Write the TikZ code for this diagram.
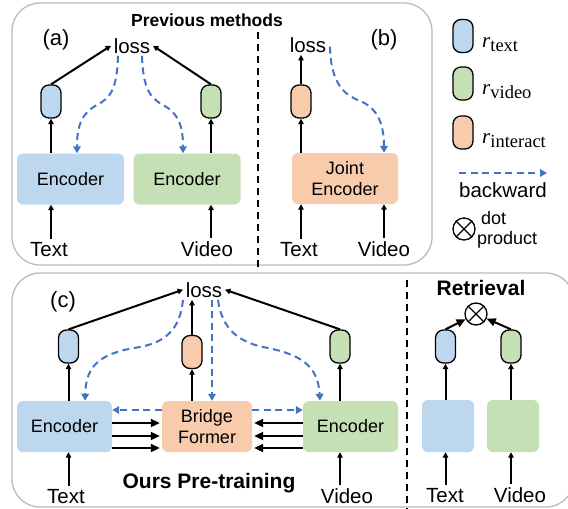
\documentclass[tikz,border=0pt]{standalone}
\usepackage{fontspec}
\setmainfont{Liberation Sans}
\newfontfamily\serifr{Liberation Serif}
\usetikzlibrary{arrows.meta,calc}
\definecolor{cblue}{HTML}{BDD7EE}
\definecolor{cgreen}{HTML}{C5E0B4}
\definecolor{corange}{HTML}{F8CBAD}
\definecolor{cdash}{HTML}{4472C4}
\definecolor{cframe}{HTML}{BBBBBB}
\begin{document}
\begin{tikzpicture}[x=1pt,y=-1pt,
  lbl/.style={font=\fontsize{20.5}{24}\selectfont, inner sep=2.5pt, anchor=base},
  ttl/.style={font=\fontsize{#1}{24}\selectfont\bfseries, inner sep=0pt, anchor=base},
  enc/.style={rounded corners=6pt, minimum height=51pt, inner sep=0pt,
     font=\fontsize{18}{21.5}\selectfont, align=center},
  capsule/.style={draw=black, line width=1.3pt, rounded corners=8pt, minimum width=20pt,
     minimum height=33pt, inner sep=0pt},
  arr/.style={-{Triangle[length=5.5pt,width=5.5pt]}, line width=2pt},
  barr/.style={-{Triangle[length=9pt,width=8pt]}, line width=2pt},
  back/.style={-{Triangle[length=7pt,width=7.5pt]}, draw=cdash, line width=2pt,
     dash pattern=on 7pt off 4.5pt},
  frame/.style={draw=cframe, line width=1.3pt, rounded corners=28pt},
  sepline/.style={line width=1.6pt, dash pattern=on 7pt off 5pt},
  dotsym/.style={circle, draw, line width=1.3pt, minimum size=22pt, inner sep=0pt}
]
\useasboundingbox (0,0) rectangle (568,509);

% frames
\draw[frame] (12,3) rectangle (432,265);
\draw[frame] (12,273) rectangle (574,507);
\draw[sepline] (258,32) -- (258,270);
\draw[sepline] (407,280) -- (407,509);

% ---------- panel (a)
\node[ttl=17.5] (prev) at (207,26) {Previous methods};
\node[lbl, font=\fontsize{22}{24}\selectfont] (la) at (56,45) {(a)};
\node[lbl] (lossA) at (132,53) {loss};
\node[capsule, fill=cblue] (capA1) at (51,101.5) {};
\node[capsule, fill=cgreen] (capA2) at (211,101.5) {};
\node[enc, fill=cblue, minimum width=107pt] (encA1) at (70.5,179) {Encoder};
\node[enc, fill=cgreen, minimum width=107pt] (encA2) at (187,179) {Encoder};
\node[lbl] (txtA) at (49,256) {Text};
\node[lbl] (vidA) at (207,256) {Video};
\draw[arr] (txtA.north -| capA1) -- (encA1.south -| capA1);
\draw[arr] (vidA.north -| capA2) -- (encA2.south -| capA2);
\draw[arr] (encA1.north -| capA1) -- (capA1.south);
\draw[arr] (encA2.north -| capA2) -- (capA2.south);
\draw[arr] (capA1.north) -- (lossA.west);
\draw[arr] (capA2.north) -- (lossA.east);
\draw[back] ($(lossA.south)+(-14,0)$) .. controls (117,90) and (110,98) .. (97,105)
   .. controls (82,113) and (77,125) .. ($(encA1.north)+(6.5,0)$);
\draw[back] ($(lossA.south)+(10,0)$) .. controls (143,88) and (150,98) .. (163,105)
   .. controls (178,113) and (183,125) .. ($(encA2.north)+(-4,0)$);

% ---------- panel (b)
\node[lbl, font=\fontsize{22}{24}\selectfont] (lb) at (384,45) {(b)};
\node[lbl] (lossB) at (308,52) {loss};
\node[capsule, fill=corange] (capB) at (301,101.5) {};
\node[enc, fill=corange, minimum width=106pt] (encB) at (345,178.5) {Joint\\Encoder};
\node[lbl] (txtB) at (299,256) {Text};
\node[lbl] (vidB) at (384,256) {Video};
\draw[arr] (txtB.north -| capB) -- (encB.south -| capB);
\draw[arr] (vidB.north) -- (encB.south -| vidB);
\draw[arr] (encB.north -| capB) -- (capB.south);
\draw[arr] (capB.north) -- (lossB.south -| capB);
\draw[back] ($(lossB.east)+(1,2)$) .. controls (331,85) and (345,95) .. (360,101)
   .. controls (378,108) and (384,125) .. (encB.north -| vidB);

% ---------- legend
\node[capsule, fill=cblue] (lg1) at (463,36) {};
\node[capsule, fill=cgreen] (lg2) at (463,83.5) {};
\node[capsule, fill=corange] (lg3) at (463,132.5) {};
\node[anchor=base west, inner sep=0pt] (lt1) at (482,47)
  {\serifr\fontsize{21}{24}\selectfont\itshape r\upshape\fontsize{18.5}{20}\selectfont\raisebox{-4pt}{text}};
\node[anchor=base west, inner sep=0pt] (lt2) at (482,94)
  {\serifr\fontsize{21}{24}\selectfont\itshape r\upshape\fontsize{18.5}{20}\selectfont\raisebox{-4pt}{video}};
\node[anchor=base west, inner sep=0pt] (lt3) at (482,143)
  {\serifr\fontsize{21}{24}\selectfont\itshape r\upshape\fontsize{18.5}{20}\selectfont\raisebox{-4pt}{interact}};
\coordinate (bw1) at (459,173);
\coordinate (bw2) at (547,173);
\draw[back] (bw1) -- (bw2);
\node[lbl] (bwl) at (503,197) {backward};
\node[dotsym] (dsym) at (464,229) {};
\draw[line width=1.3pt] (dsym.north west) -- (dsym.south east) (dsym.north east) -- (dsym.south west);
\node[anchor=base west, inner sep=0pt, font=\fontsize{18}{20}\selectfont] (dtl) at (481,224) {dot};
\node[anchor=base west, inner sep=0pt, font=\fontsize{18}{20}\selectfont] (pdl) at (477,244) {product};

% ---------- panel (c)
\node[lbl, font=\fontsize{22}{24}\selectfont] (lc) at (63,307) {(c)};
\node[lbl] (lossC) at (204,297) {loss};
\node[capsule, fill=cblue] (capC1) at (68.5,346.5) {};
\node[capsule, fill=corange] (capC2) at (192,352) {};
\node[capsule, fill=cgreen] (capC3) at (340,346.5) {};
\node[enc, fill=cblue, minimum width=95pt] (encC1) at (64.5,426.5) {Encoder};
\node[enc, fill=corange, minimum width=90pt] (bridge) at (207,426.5) {Bridge\\Former};
\node[enc, fill=cgreen, minimum width=95pt] (encC3) at (350.5,426.5) {Encoder};
\node[lbl] (txtC) at (66,503) {Text};
\node[lbl] (vidC) at (347,503) {Video};
\node[ttl=21] (ours) at (209,488) {Ours Pre-training};
\draw[arr] (txtC.north -| capC1) -- (encC1.south -| capC1);
\draw[arr] (vidC.north -| capC3) -- (encC3.south -| capC3);
\draw[arr] (encC1.north -| capC1) -- (capC1.south);
\draw[arr] (bridge.north -| capC2) -- (capC2.south);
\draw[arr] (encC3.north -| capC3) -- (capC3.south);
\draw[arr] (capC2.north) -- (lossC.south -| capC2);
\draw[arr] (capC1.north) -- (lossC.west);
\draw[arr] (capC3.north) -- (lossC.east);
\foreach \dy in {-3.5,9.5,21.5} {
  \draw[barr] ($(encC1.east)+(0,\dy)$) -- ($(bridge.west)+(-2,\dy)$);
  \draw[barr] ($(encC3.west)+(0,\dy)$) -- ($(bridge.east)+(2,\dy)$);
}
\draw[back] ($(bridge.west)+(0,-16.5)$) -- ($(encC1.east)+(0,-16.5)$);
\draw[back] ($(bridge.east)+(0,-16.5)$) -- ($(encC3.west)+(0,-16.5)$);
\draw[back] ($(lossC.south)+(8,0)$) -- ($(bridge.north)+(5,0)$);
\draw[back] ($(lossC.south)+(-21,0)$) .. controls (180,330) and (165,342) .. (140,347)
   .. controls (100,353) and (86,365) .. ($(encC1.north)+(20.5,0)$);
\draw[back] ($(lossC.south)+(14,0)$) .. controls (222,330) and (240,342) .. (263,347)
   .. controls (300,354) and (318,365) .. ($(encC3.north)+(-30.5,0)$);

% ---------- retrieval
\node[ttl=21] (retT) at (481,295) {Retrieval};
\node[dotsym] (ret) at (476,314) {};
\draw[line width=1.3pt] (ret.north west) -- (ret.south east) (ret.north east) -- (ret.south west);
\node[capsule, fill=cblue] (capR1) at (445.5,346.5) {};
\node[capsule, fill=cgreen] (capR2) at (511,346.5) {};
\node[enc, fill=cblue, minimum width=52pt, minimum height=52pt] (boxR1) at (448,426) {};
\node[enc, fill=cgreen, minimum width=52pt, minimum height=52pt] (boxR2) at (513,426) {};
\node[lbl] (txtR) at (445,502) {Text};
\node[lbl] (vidR) at (520,502) {Video};
\draw[arr] (txtR.north -| capR1) -- (boxR1.south -| capR1);
\draw[arr] (vidR.north -| capR2) -- (boxR2.south -| capR2);
\draw[arr] (boxR1.north -| capR1) -- (capR1.south);
\draw[arr] (boxR2.north -| capR2) -- (capR2.south);
\draw[barr] (capR1.north) -- (ret);
\draw[barr] (capR2.north) -- (ret);
\end{tikzpicture}
\end{document}
